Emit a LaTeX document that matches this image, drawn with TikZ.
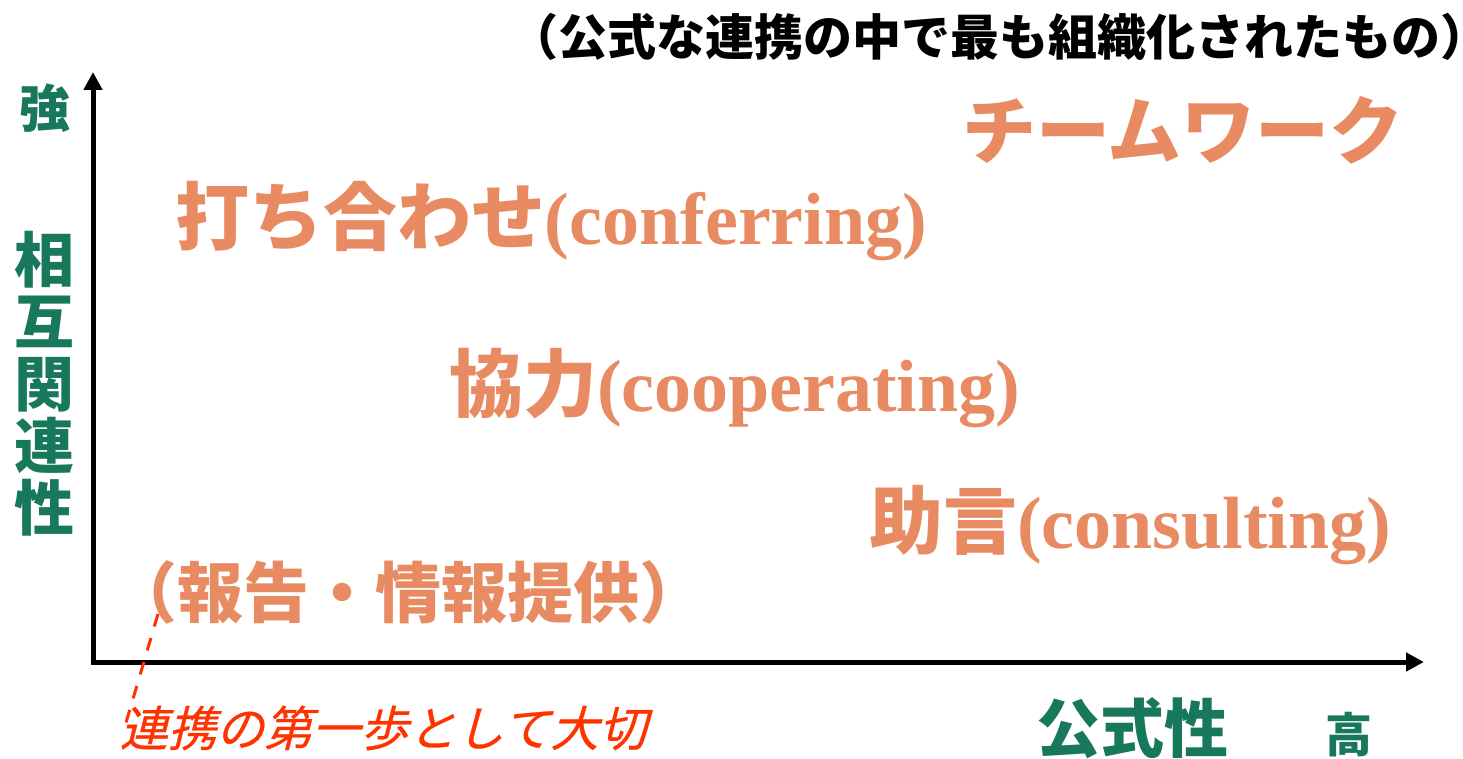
\documentclass[tikz,border=0pt]{standalone}
\usepackage{fontspec}
\usetikzlibrary{arrows.meta}
\newfontfamily\cjk{Noto Sans CJK JP}
\newfontfamily\cjkslant{Noto Sans CJK JP}[FakeSlant=0.25,FakeBold=0.6]
\newfontfamily\lserif{Liberation Serif}
\definecolor{axgreen}{RGB}{24,120,92}
\definecolor{lorange}{RGB}{232,139,98}
\definecolor{lred}{RGB}{255,51,0}
\tikzset{
  lbl/.style={inner sep=0pt, outer sep=0pt},
  axis/.style={line width=2.5pt, -{Triangle[length=9pt,width=9pt]}},
  greenlbl/.style={lbl, text=axgreen, font=\cjk\bfseries},
  orangelbl/.style={lbl, text=lorange, anchor=west},
}
\begin{document}
\begin{tikzpicture}[x=0.5pt,y=-0.5pt]
\useasboundingbox (0,0) rectangle (1463,759);
% axes
\coordinate (o) at (93,662);
\coordinate (ytop) at (93,72);
\coordinate (xend) at (1424,662);
\draw[axis] ([yshift=-1.25pt]o) -- (ytop);
\draw[axis] ([xshift=-1.25pt]o) -- (xend);
% axis labels
\node[greenlbl, font=\cjk\bfseries\fontsize{25.5}{25.5}\selectfont] (strong) at (45,108) {強};
\node[greenlbl, font=\cjk\bfseries\fontsize{30}{31}\selectfont, align=center] (interrel) at (45,384) {相\\互\\関\\連\\性};
\node[greenlbl, font=\cjk\bfseries\fontsize{32}{32}\selectfont] (formal) at (1132,728) {公式性};
\node[greenlbl, font=\cjk\bfseries\fontsize{23.5}{23.5}\selectfont] (high) at (1349,735) {高};
% top note
\node[lbl, anchor=east, font=\cjk\bfseries\fontsize{24.5}{24.5}\selectfont] (note) at (1462,37) {（公式な連携の中で最も組織化されたもの）\kern-0.57em};
% levels
\node[orangelbl, font=\cjk\bfseries\fontsize{37}{37}\selectfont] (team) at (962,130) {チームワーク};
\node[orangelbl] (confer) at (175,221) {{\cjk\bfseries\fontsize{37}{37}\selectfont 打ち合わせ}{\lserif\bfseries\fontsize{37}{37}\selectfont (conferring)}};
\node[orangelbl] (coop) at (449,388) {{\cjk\bfseries\fontsize{37}{37}\selectfont 協力}{\lserif\bfseries\fontsize{37}{37}\selectfont (cooperating)}};
\node[orangelbl] (consult) at (869,525) {{\cjk\bfseries\fontsize{37}{37}\selectfont 助言}{\lserif\bfseries\fontsize{37}{37}\selectfont (consulting)}};
\node[orangelbl, font=\cjk\bfseries\fontsize{33}{33}\selectfont] (report) at (112,592) {（報告・情報提供）};
% note on first step
\node[lbl, anchor=west, text=lred, font=\cjkslant\fontsize{24}{24}\selectfont] (first) at (120,728) {連携の第一歩として大切};
\coordinate (dashtop) at (158,614);
\coordinate (dashbot) at (125,726);
\draw[lred, line width=1.5pt, dash pattern=on 6.5pt off 6pt] (dashtop) -- (dashbot);
\end{tikzpicture}
\end{document}
